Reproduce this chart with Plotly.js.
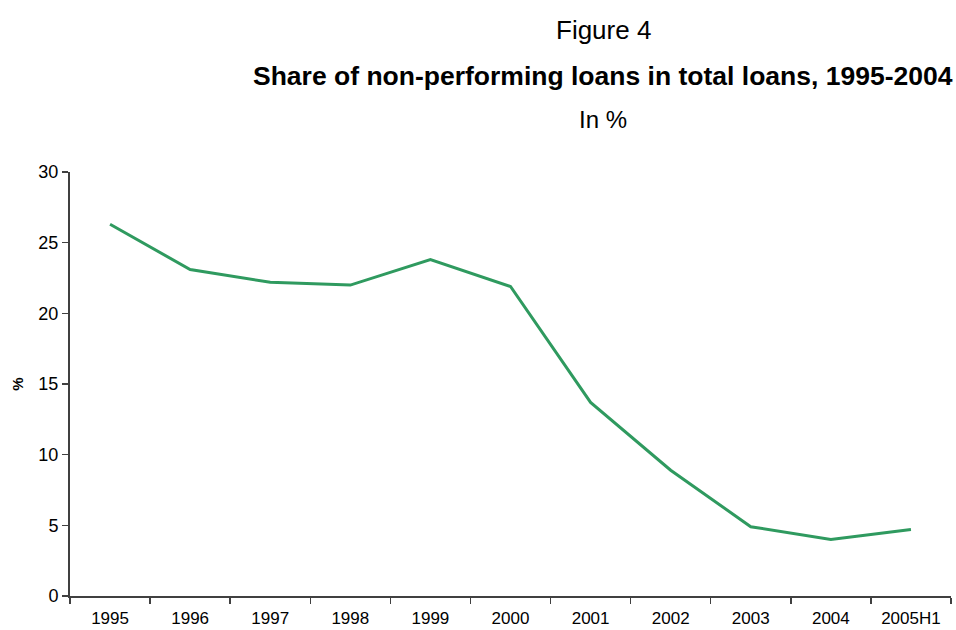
<!DOCTYPE html>
<html>
<head>
<meta charset="utf-8">
<script src="https://cdn.plot.ly/plotly-3.0.1.min.js"></script>
<style>html,body{margin:0;padding:0;background:#fff}#chart{width:956px;height:630px}</style>
</head>
<body>
<div id="chart"></div>
<script>
const categories = ["1995","1996","1997","1998","1999","2000","2001","2002","2003","2004","2005H1"];
const npShare = [26.3, 23.1, 22.2, 22.0, 23.8, 21.9, 13.7, 8.9, 4.9, 4.0, 4.7];
const yTicks = [0, 5, 10, 15, 20, 25, 30];

const trace = {
  x: categories,
  y: npShare,
  type: "scatter",
  mode: "lines",
  line: {color: "#2f9a5f", width: 3},
  hoverinfo: "x+y"
};

const font = {family: "Liberation Sans, Arial, sans-serif", color: "#000"};
const F = s => Object.assign({size: s}, font);

const cx = (603 - 70) / 881;
const py = y => (596 - y) / 424;

const layout = {
  width: 956, height: 630,
  margin: {l: 70, r: 5, t: 172, b: 34},
  paper_bgcolor: "#fff", plot_bgcolor: "#fff",
  showlegend: false,
  font: F(17),
  xaxis: {
    type: "category",
    range: [-0.5, 10.5],
    showline: true, linecolor: "#404040", linewidth: 2,
    ticks: "outside", tickson: "boundaries", ticklen: 6, tickwidth: 1.5, tickcolor: "#404040",
    showgrid: false, zeroline: false,
    ticklabelstandoff: 6,
    tickfont: F(17)
  },
  yaxis: {
    range: [0, 30],
    tickvals: yTicks,
    showline: true, linecolor: "#404040", linewidth: 2,
    ticks: "outside", ticklen: 6, tickwidth: 1.5, tickcolor: "#404040",
    showgrid: false, zeroline: false,
    tickfont: F(18),
    title: {text: "<b>%</b>", font: F(15), standoff: 11}
  },
  annotations: [
    {text: "Figure 4", xref: "paper", yref: "paper", x: cx, y: py(30), xanchor: "center", yanchor: "middle", showarrow: false, font: F(26)},
    {text: "<b>Share of non-performing loans in total loans, 1995-2004</b>", xref: "paper", yref: "paper", x: cx, y: py(76), xanchor: "center", yanchor: "middle", showarrow: false, font: F(26.5)},
    {text: "In %", xref: "paper", yref: "paper", x: cx, y: py(120), xanchor: "center", yanchor: "middle", showarrow: false, font: F(24)}
  ]
};

Plotly.newPlot("chart", [trace], layout, {displayModeBar: false, staticPlot: true});
</script>
</body>
</html>
